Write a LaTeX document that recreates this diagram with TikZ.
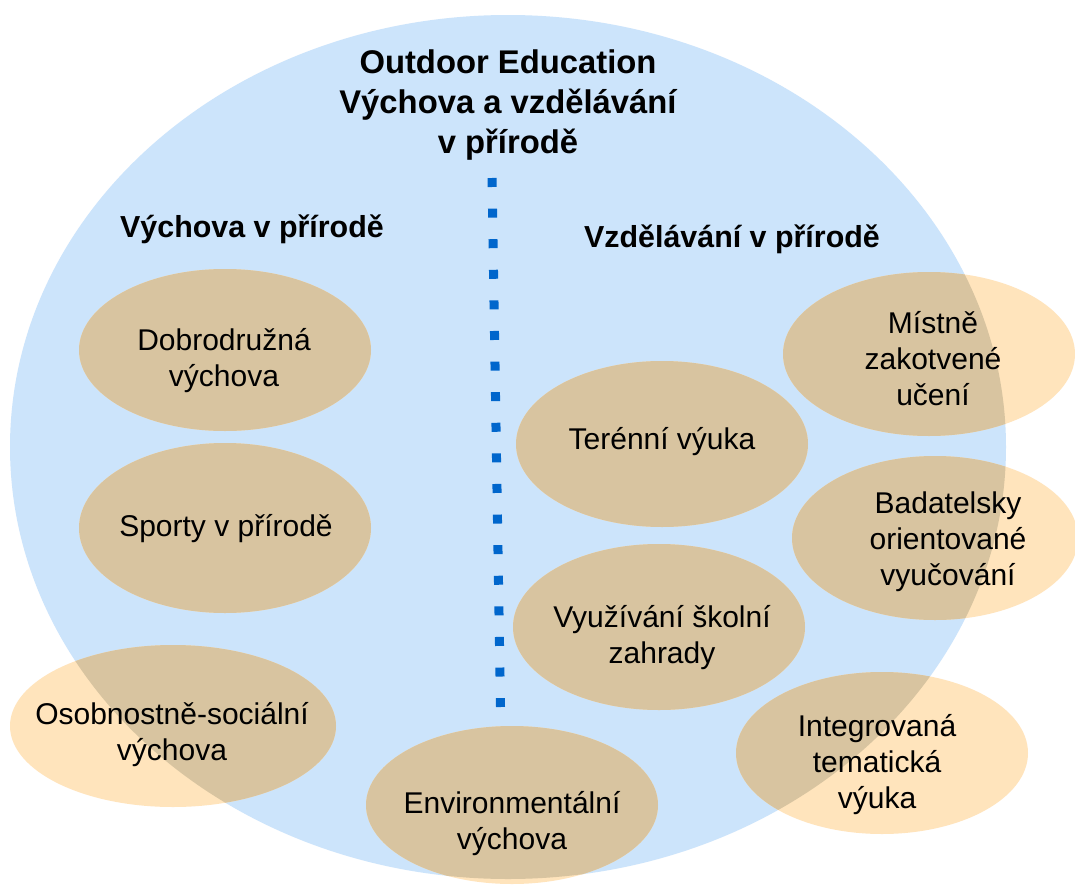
\documentclass[tikz,border=0pt]{standalone}
\usepackage{fontspec}
\setmainfont{Liberation Sans}
\definecolor{skyfill}{RGB}{204,228,251}
\definecolor{peachfill}{RGB}{255,228,188}
\definecolor{overlapfill}{RGB}{216,196,160}
\definecolor{dotblue}{RGB}{0,102,204}
\begin{document}
\begin{tikzpicture}[x=0.75pt,y=-0.75pt,
  label/.style={align=center,inner sep=0pt,font=\fontsize{22.5}{27}\selectfont},
  heading/.style={align=center,inner sep=0pt,font=\bfseries\fontsize{22.8}{27}\selectfont},
  titletext/.style={align=center,inner sep=0pt,font=\bfseries\fontsize{24.6}{30.2}\selectfont},
  divider/.style={draw=dotblue,line width=6.75pt,dash pattern=on 6.75pt off 16.2pt}]
  % canvas
  \fill[white] (0,0) rectangle (1075,885);
  \useasboundingbox (0,0) rectangle (1075,885);

  % outer region
  \coordinate (outer) at (508,447);
  \fill[skyfill] (outer) ellipse [x radius=498, y radius=432];

  % vertical divider
  \coordinate (divtop) at (492,178);
  \coordinate (divbot) at (500.5,707);
  \draw[divider] (divtop) -- (divbot);

  % centres of the topic ellipses
  \coordinate (dobro)  at (225,350);
  \coordinate (sporty) at (225,528);
  \coordinate (osob)   at (173,726);
  \coordinate (env)    at (512,805);
  \coordinate (teren)  at (662,444);
  \coordinate (zahr)   at (659,627);
  \coordinate (mistne) at (929,354);
  \coordinate (badat)  at (935,538);
  \coordinate (integ)  at (882,753);

  \def\blobs{dobro/146/81, sporty/146/85, osob/163/81, env/146/79,
    teren/146/83, zahr/146/83, mistne/146/82, badat/143/82, integ/146/81}

  \foreach \c/\rx/\ry in \blobs
    \fill[peachfill] (\c) ellipse [x radius=\rx, y radius=\ry];
  \begin{scope}
    \clip (outer) ellipse [x radius=498, y radius=432];
    \foreach \c/\rx/\ry in \blobs
      \fill[overlapfill] (\c) ellipse [x radius=\rx, y radius=\ry];
  \end{scope}

  % titles
  \node[titletext] (title) at (508,105) {Outdoor Education\\Výchova a vzdělávání\\v přírodě};
  \node[heading] (left)  at (252,229) {Výchova v přírodě};
  \node[heading] (right) at (732,239) {Vzdělávání v přírodě};

  % topic labels
  \node[label] (tdobro)  at (224,361) {Dobrodružná\\výchova};
  \node[label] (tsporty) at (226,529) {Sporty v přírodě};
  \node[label] (tosob)   at (172,735) {Osobnostně-sociální\\výchova};
  \node[label] (tenv)    at (512,824) {Environmentální\\výchova};
  \node[label] (tteren)  at (662,442) {Terénní výuka};
  \node[label] (tzahr)   at (662,638) {Využívání školní\\zahrady};
  \node[label] (tmistne) at (933,359) {Místně\\zakotvené\\učení};
  \node[label] (tbadat)  at (948,542) {Badatelsky\\orientované\\vyučování};
  \node[label] (tinteg)  at (877,765) {Integrovaná\\tematická\\výuka};
\end{tikzpicture}
\end{document}
